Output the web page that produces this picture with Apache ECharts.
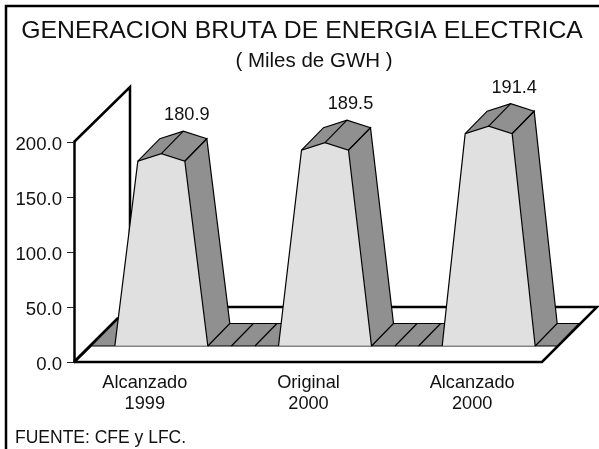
<!DOCTYPE html>
<html>
<head>
<meta charset="utf-8">
<title>Generacion bruta de energia electrica</title>
<script src="https://cdn.jsdelivr.net/npm/echarts@6/dist/echarts.min.js"></script>
<style>
html, body { margin: 0; padding: 0; background: #fff; }
#main { width: 599px; height: 449px; }
</style>
</head>
<body>
<div id="main"></div>
<script>
const categories = ['Alcanzado\n1999', 'Original\n2000', 'Alcanzado\n2000'];
// labels printed over the bars
const valueLabels = ['180.9', '189.5', '191.4'];
// shoulder height of each bar as drawn, it does not follow the labels exactly
const barHeights = [168, 178, 193];
const yTickLabels = ['0.0', '50.0', '100.0', '150.0', '200.0'];

const FONT = '"Liberation Sans", Arial, sans-serif';
const FACE = '#e0e0e0';
const DARK = '#909090';
const BLACK = '#000';
const THICK = 2.5;
const THIN = 1.2;

const AXIS_INSET = 11;
const WALL = { dx: 56, dy: -55 };
const BASE = { dx: 18, dy: -16 };   // front edge of the platform
const DEPTH = { dx: 22, dy: -22.5 }; // depth of bars and platform
const BAR_OFFSET = 16.5;
const BASE_HALF = 46.5;
const TOP_HALF = 23.5;
const PEAK = 7.5;

const poly = (points, fill, z2) => ({
    type: 'polygon',
    z2: z2 || 0,
    shape: { points },
    style: { fill, stroke: null }
});

const line = (points, width, color, z2) => ({
    type: 'polyline',
    z2: z2 || 0,
    shape: { points },
    style: { fill: null, stroke: color || BLACK, lineWidth: width, lineJoin: 'miter' }
});

const renderFloor = (params, api) => {
    const band = api.size([1, 0])[0];
    const zero = api.coord([0, 0]);
    const last = api.coord([2, 0]);
    const top = api.coord([0, 200]);
    const x0 = zero[0] - band / 2 + AXIS_INSET;
    const x1 = last[0] + band / 2 - AXIS_INSET - 1;
    const y0 = zero[1];
    const yBack = y0 + WALL.dy;
    const yFront = y0 + BASE.dy;
    const yRear = yFront + DEPTH.dy;
    const baseLeft = x0 + BASE.dx;
    const baseRight = last[0] + BAR_OFFSET + BASE_HALF + DEPTH.dx;
    const corner = x0 + 44; // where the first bar hides the left floor edge
    const children = [
        // back wall and floor outline
        line([[x0, top[1]], [x0 + WALL.dx, top[1] + WALL.dy], [x0 + WALL.dx, yBack]], THICK),
        line([[x0, y0], [x1, y0], [x1 + WALL.dx - 1, yBack], [x0 + WALL.dx, yBack], [x0, y0]], THICK),
        // platform
        poly([[baseLeft, yFront], [corner, y0 - 44], [corner, yRear],
            [baseRight + DEPTH.dx, yRear], [baseRight, yFront]], DARK),
        line([[baseLeft, yFront], [baseRight, yFront], [baseRight + DEPTH.dx, yRear], [corner, yRear]], THIN),
        line([[x0, y0], [corner, y0 - 44]], THICK)
    ];
    // hatch between the bars
    [0, 1].forEach(i => {
        const from = api.coord([i, 0])[0] + BAR_OFFSET + BASE_HALF;
        const gap = band - BASE_HALF * 2;
        [1, 2].forEach(k => {
            const x = from + gap * k / 3;
            children.push(line([[x, yFront], [x + DEPTH.dx, yRear]], THIN));
        });
    });
    return { type: 'group', children };
};

const renderBar = (params, api) => {
    const p = api.coord([api.value(0), api.value(1)]);
    const cx = p[0] + BAR_OFFSET;
    const y = p[1] + BASE.dy;
    const yBase = api.coord([0, 0])[1] + BASE.dy;
    const d = DEPTH;
    const baseL = [cx - BASE_HALF, yBase];
    const baseR = [cx + BASE_HALF, yBase];
    const baseRB = [baseR[0] + d.dx, yBase + d.dy];
    const left = [cx - TOP_HALF, y];
    const right = [cx + TOP_HALF, y];
    const peak = [cx, y - PEAK];
    const rightB = [right[0] + d.dx, y + d.dy];
    const peakB = [cx + d.dx, y - PEAK + d.dy];
    const leftB = [left[0] + d.dx, y + d.dy];
    return {
        type: 'group',
        children: [
            poly([baseR, right, rightB, baseRB], DARK),
            poly([left, peak, peakB, leftB], DARK),
            poly([peak, right, rightB, peakB], DARK),
            poly([baseL, left, peak, right, baseR], FACE),
            line([baseL, baseR], 1, '#888'),
            line([baseL, left, peak, right, baseR], THIN),
            line([baseR, baseRB, rightB, right], THIN),
            line([right, rightB, peakB, leftB, left], THIN),
            line([peak, peakB], THIN),
            {
                type: 'text',
                style: {
                    x: peakB[0] + 3.5,
                    y: peakB[1] - 16,
                    text: valueLabels[params.dataIndex],
                    font: '18.2px ' + FONT,
                    fill: '#111',
                    align: 'center',
                    verticalAlign: 'middle'
                }
            }
        ]
    };
};

const chart = echarts.init(document.getElementById('main'), null, { renderer: 'canvas' });
chart.setOption({
    animation: false,
    backgroundColor: '#fff',
    title: [
        {
            text: 'GENERACION BRUTA DE ENERGIA ELECTRICA',
            left: 297, top: 14, textAlign: 'center',
            textStyle: { fontFamily: FONT, fontSize: 24.8, fontWeight: 'normal', color: '#111' }
        },
        {
            text: '( Miles de GWH )',
            left: 309, top: 46, textAlign: 'center',
            textStyle: { fontFamily: FONT, fontSize: 20.5, fontWeight: 'normal', color: '#111' }
        },
        {
            text: 'FUENTE: CFE y LFC.',
            left: 10, top: 424,
            textStyle: { fontFamily: FONT, fontSize: 17.5, fontWeight: 'normal', color: '#111' }
        }
    ],
    // page frame, only top and left are drawn
    graphic: [
        { type: 'polyline', silent: true, shape: { points: [[6, 449], [6, 6], [599, 6]] },
          style: { fill: null, stroke: BLACK, lineWidth: THICK } }
    ],
    grid: { left: 63, top: 142, width: 491, height: 220 },
    xAxis: {
        type: 'category',
        data: categories,
        axisLine: { show: false },
        axisTick: { show: false },
        axisLabel: { fontFamily: FONT, fontSize: 18.2, color: '#111', lineHeight: 21, margin: 10 }
    },
    yAxis: {
        type: 'value',
        min: 0,
        max: 200,
        interval: 50,
        offset: -AXIS_INSET,
        axisLine: { show: true, onZero: false, lineStyle: { color: BLACK, width: THICK } },
        axisTick: { show: true, length: 7, lineStyle: { color: '#222', width: 1 } },
        axisLabel: {
            margin: 12,
            formatter: v => '{t|' + yTickLabels[v / 50] + '}',
            rich: {
                t: { fontFamily: FONT, fontSize: 18.6, color: '#111', padding: [5, 0, 0, 0] }
            }
        },
        splitLine: { show: false }
    },
    series: [
        {
            type: 'custom', name: 'piso', silent: true, clip: false, z: 1,
            renderItem: renderFloor,
            encode: { x: 0, y: 1 },
            data: [[0, 0]]
        },
        {
            type: 'custom', name: 'generacion', silent: true, clip: false, z: 2,
            renderItem: renderBar,
            encode: { x: 0, y: 1 },
            data: categories.map((c, i) => [i, barHeights[i]])
        }
    ]
});
</script>
</body>
</html>
